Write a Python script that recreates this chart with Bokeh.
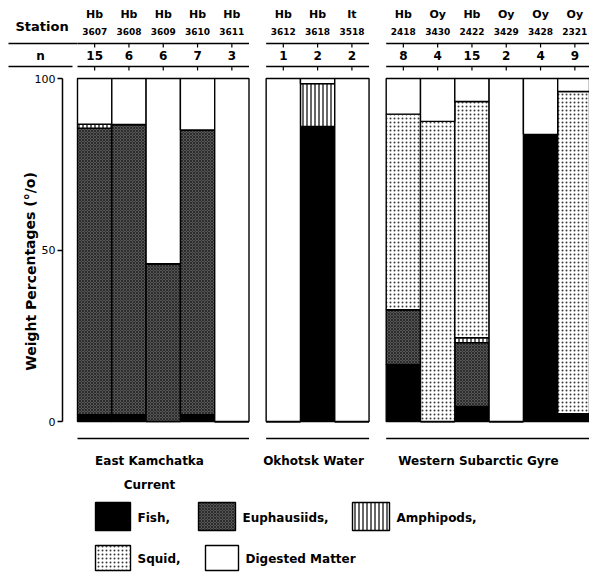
from bokeh.plotting import figure
from bokeh.models import Range1d, LinearAxis, FixedTicker, ColumnDataSource
from bokeh.core.properties import value
from bokeh.embed import file_html
from bokeh.resources import INLINE

# ---------------- data ----------------
station_prefix = ["Hb", "Hb", "Hb", "Hb", "Hb", "Hb", "Hb", "It",
                  "Hb", "Oy", "Hb", "Oy", "Oy", "Oy"]
station_ids = ["3607", "3608", "3609", "3610", "3611", "3612", "3618", "3518",
               "2418", "3430", "2422", "3429", "3428", "2321"]
n_values = [15, 6, 6, 7, 3, 1, 2, 2, 8, 4, 15, 2, 4, 9]
panel_sizes = [5, 3, 6]
panel_labels = [["East Kamchatka", "Current"], ["Okhotsk Water"], ["Western Subarctic Gyre"]]

fish = [2.0, 2.0, 0.0, 2.0, 0.0, 0.0, 86.0, 0.0, 16.6, 0.0, 4.4, 0.0, 83.7, 2.3]
euphausiids = [83.5, 84.6, 46.0, 83.0, 0.0, 0.0, 0.0, 0.0, 16.0, 0.0, 18.6, 0.0, 0.0, 0.0]
amphipods = [1.2, 0.0, 0.0, 0.0, 0.0, 0.0, 12.5, 0.0, 0.0, 0.0, 1.4, 0.0, 0.0, 0.0]
squid = [0.0, 0.0, 0.0, 0.0, 0.0, 0.0, 0.0, 0.0, 57.0, 87.5, 68.9, 0.0, 0.0, 93.9]
digested = [13.3, 13.4, 54.0, 15.0, 100.0, 100.0, 1.5, 100.0, 10.4, 12.5, 6.7, 100.0, 16.3, 3.8]

y_ticks = [0, 50, 100]
y_title = "Weight Percentages (°/o)"
layer_names = ["Fish,", "Euphausiids,", "Amphipods,", "Squid,", "Digested Matter"]

# ---------------- layout constants ----------------
W, H = 589, 573
UNIT = 34.3          # px per bar
X0 = 77              # px of first bar's left edge
Y0 = 421             # px of 0 %
YS = 3.43            # px per percent
GAP = 0.5            # gap between panels, in bars
FONT = value("DejaVu Sans")

# bar positions derived from the panel structure
centers, panel_start, panel_end = [], [], []
off = 0.0
for n in panel_sizes:
    panel_start.append(off)
    for j in range(n):
        centers.append(off + j + 0.5)
    panel_end.append(off + n)
    off += n + GAP

p = figure(width=W, height=H, output_backend="svg", toolbar_location=None,
           x_range=Range1d(-X0 / UNIT, (W - X0) / UNIT),
           y_range=Range1d((Y0 - H) / YS, Y0 / YS),
           x_axis_location=None, y_axis_location=None,
           min_border=0, outline_line_color=None)
p.xgrid.visible = False
p.ygrid.visible = False
p.background_fill_color = "white"
p.border_fill_color = "white"
p.extra_x_ranges = {"px": Range1d(0, W)}
p.extra_y_ranges = {"px": Range1d(H, 0)}

styles = [
    dict(fill_color="black", hatch_pattern=None, hatch_color="black", hatch_scale=4, hatch_weight=1),
    dict(fill_color="#565656", hatch_pattern="diagonal_cross", hatch_color="#1a1a1a", hatch_scale=3, hatch_weight=0.7),
    dict(fill_color="white", hatch_pattern="vertical_line", hatch_color="black", hatch_scale=4, hatch_weight=1.2),
    dict(fill_color="white", hatch_pattern="dot", hatch_color="#3a3a3a", hatch_scale=4, hatch_weight=1),
    dict(fill_color="white", hatch_pattern=None, hatch_color="black", hatch_scale=4, hatch_weight=1),
]
keys = ["fish", "euph", "amph", "squid", "dig"]

src = ColumnDataSource(dict(x=centers, fish=fish, euph=euphausiids, amph=amphipods,
                            squid=squid, dig=digested, prefix=station_prefix,
                            sid=station_ids, n=[str(v) for v in n_values]))

p.vbar_stack(keys, x="x", width=1, source=src,
             fill_color=[s["fill_color"] for s in styles],
             hatch_pattern=[s["hatch_pattern"] for s in styles],
             hatch_color=[s["hatch_color"] for s in styles],
             hatch_scale=[s["hatch_scale"] for s in styles],
             hatch_weight=[s["hatch_weight"] for s in styles],
             line_color="black", line_width=1.4)

# y axis (fixed inside the frame so it takes no side space)
yaxis = LinearAxis(fixed_location=-(X0 - 62) / UNIT, bounds=(0, 100),
                   ticker=FixedTicker(ticks=y_ticks))
yaxis.axis_line_width = 1.5
yaxis.axis_line_color = "black"
yaxis.major_tick_in = 0
yaxis.major_tick_out = 5
yaxis.major_tick_line_width = 1.5
yaxis.minor_tick_line_color = None
yaxis.major_label_standoff = 2
yaxis.major_label_text_font = "DejaVu Sans"
yaxis.major_label_text_font_size = "11px"
yaxis.major_label_text_color = "black"
p.add_layout(yaxis, "left")

p.text(x=[30], y=[271], text=[y_title], angle=1.5708, text_font=FONT,
       text_font_style="bold", text_font_size="14px", text_align="center",
       text_baseline="middle", x_range_name="px", y_range_name="px")

# header
p.text(x="x", y=14, text="prefix", source=src, y_range_name="px", text_font=FONT,
       text_font_style="bold", text_font_size="11px", text_align="center", text_baseline="middle")
p.text(x="x", y=31, text="sid", source=src, y_range_name="px", text_font=FONT,
       text_font_style="bold", text_font_size="9px", text_align="center", text_baseline="middle")
p.text(x="x", y=55, text="n", source=src, y_range_name="px", text_font=FONT,
       text_font_style="bold", text_font_size="12px", text_align="center", text_baseline="middle")
p.text(x=[15], y=[26], text=["Station"], x_range_name="px", y_range_name="px", text_font=FONT,
       text_font_style="bold", text_font_size="13px", text_align="left", text_baseline="middle")
p.text(x=[40], y=[55], text=["n"], x_range_name="px", y_range_name="px", text_font=FONT,
       text_font_style="bold", text_font_size="12px", text_align="center", text_baseline="middle")

LINE_UP, LINE_LO, LINE_BOT = 43, 66, 438
# header rules per panel
for yl in (LINE_UP, LINE_LO):
    p.segment(x0=panel_start, x1=panel_end, y0=yl, y1=yl, y_range_name="px",
              line_color="black", line_width=1.5)
    p.segment(x0="x", x1="x", y0=yl, y1=yl + 4, source=src, y_range_name="px",
              line_color="black", line_width=1.2)
p.segment(x0=[8], x1=[X0], y0=[LINE_UP], y1=[LINE_UP], x_range_name="px", y_range_name="px",
          line_color="black", line_width=1.5)
p.segment(x0=[8], x1=[72], y0=[LINE_LO], y1=[LINE_LO], x_range_name="px", y_range_name="px",
          line_color="black", line_width=1.5)

# bottom rules and region labels
p.segment(x0=panel_start, x1=panel_end, y0=LINE_BOT, y1=LINE_BOT, y_range_name="px",
          line_color="black", line_width=1.5)
label_x = [2.1, 6.88, 11.69]
for lx, lines in zip(label_x, panel_labels):
    for k, t in enumerate(lines):
        p.text(x=[lx], y=[460 + 24 * k], text=[t], y_range_name="px", text_font=FONT,
               text_font_style="bold", text_font_size="12px", text_align="center",
               text_baseline="middle")

# legend
leg_boxes = [(95, 130, 502, 530), (198, 235, 502, 530), (352, 389, 502, 530),
             (95, 130, 545, 570), (205, 238, 545, 570)]
leg_text = [(137, 517), (242, 517), (396, 517), (137, 558), (245, 558)]
for (l, r, t, b), (tx, ty), s, name in zip(leg_boxes, leg_text, styles, layer_names):
    p.quad(left=[l], right=[r], top=[t], bottom=[b], x_range_name="px", y_range_name="px",
           line_color="black", line_width=1.4, **s)
    p.text(x=[tx], y=[ty], text=[name], x_range_name="px", y_range_name="px", text_font=FONT,
           text_font_style="bold", text_font_size="12px", text_align="left", text_baseline="middle")

open("out.html", "w").write(file_html(p, INLINE))
